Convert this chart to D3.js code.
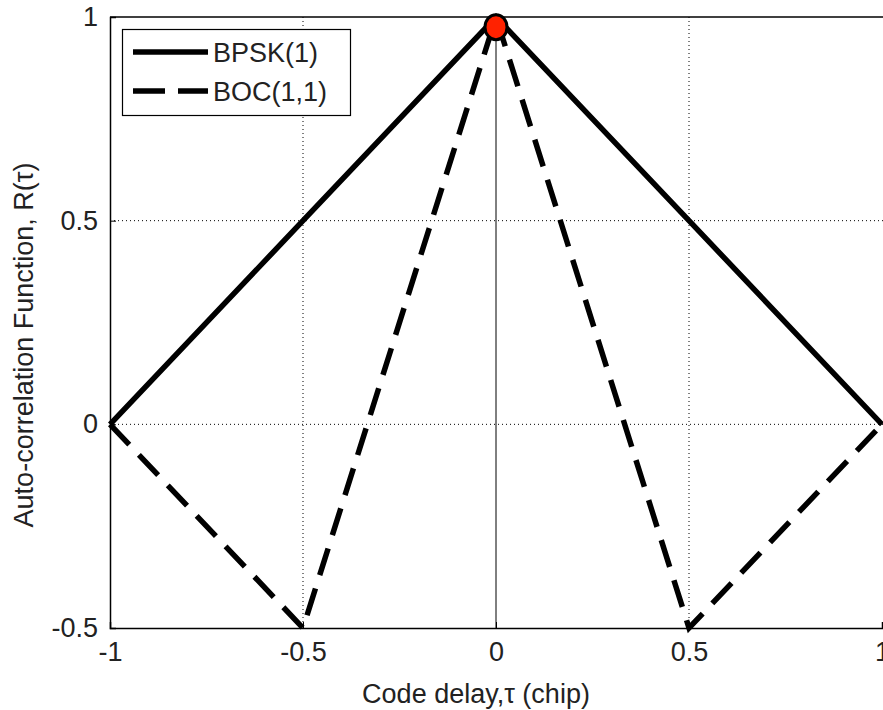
<!DOCTYPE html>
<html>
<head>
<meta charset="utf-8">
<script src="https://cdn.jsdelivr.net/npm/d3@7"></script>
<style>
  body { margin: 0; background: #fff; }
  text { font-family: "Liberation Sans", Arial, sans-serif; }
</style>
</head>
<body>
<div id="graph"></div>
<script>
var delay = [-1, -0.5, 0, 0.5, 1];
var bpsk = [0, 0.5, 1, 0.5, 0];
var boc = [0, -0.5, 1, -0.5, 0];
var peak = {x: 0, y: 0.975};
var xTicks = [-1, -0.5, 0, 0.5, 1];
var yTicks = [-0.5, 0, 0.5, 1];
var seriesNames = ['BPSK(1)', 'BOC(1,1)'];

function drawChart() {
    var width = 883, height = 710;
    var mLeft = 110, mRight = 883, mTop = 17, mBottom = 628;
    var fontSize = 27;

    var svg = d3.select('#graph')
        .append('svg')
        .attr('width', width)
        .attr('height', height);

    var x = d3.scaleLinear().domain([-1, 1]).range([mLeft, mRight - 1]);
    var y = d3.scaleLinear().domain([-0.5, 1]).range([mBottom, mTop]);

    // grid, dotted like matlab
    var grid = svg.append('g');
    grid.selectAll('.gx')
        .data(xTicks.filter(d => d !== -1 && d !== 1 && d !== 0))
        .enter().append('line')
        .attr('x1', d => x(d)).attr('x2', d => x(d))
        .attr('y1', mTop).attr('y2', mBottom)
        .attr('stroke', '#000').attr('stroke-width', 1)
        .attr('stroke-dasharray', '1,3');
    grid.selectAll('.gy')
        .data(yTicks.filter(d => d !== -0.5 && d !== 1))
        .enter().append('line')
        .attr('x1', mLeft).attr('x2', mRight)
        .attr('y1', d => y(d)).attr('y2', d => y(d))
        .attr('stroke', '#000').attr('stroke-width', 1)
        .attr('stroke-dasharray', '1,3');

    // solid line at zero delay
    svg.append('line')
        .attr('x1', x(0)).attr('x2', x(0))
        .attr('y1', mTop).attr('y2', mBottom)
        .attr('stroke', '#000').attr('stroke-width', 1);

    // axes
    var fmt = d => String(d);
    var xAxis = d3.axisBottom(x).tickValues(xTicks).tickSize(-6).tickPadding(14).tickFormat(fmt);
    var yAxis = d3.axisLeft(y).tickValues(yTicks).tickSize(-6).tickPadding(12).tickFormat(fmt);

    var gx = svg.append('g').attr('transform', 'translate(0,' + mBottom + ')').call(xAxis);
    var gy = svg.append('g').attr('transform', 'translate(' + mLeft + ',0)').call(yAxis);
    [gx, gy].forEach(function(g) {
        g.select('.domain').attr('stroke', '#000').attr('stroke-width', 1.5);
        g.selectAll('.tick line').attr('stroke', '#000');
        g.selectAll('.tick text')
            .attr('font-size', fontSize)
            .attr('fill', '#222')
            .style('font-family', '"Liberation Sans", Arial, sans-serif');
    });
    gx.selectAll('.tick text').attr('dy', '0.7em');

    // top frame
    svg.append('line')
        .attr('x1', mLeft).attr('x2', mRight)
        .attr('y1', mTop).attr('y2', mTop)
        .attr('stroke', '#000').attr('stroke-width', 1.5);

    // curves
    var line = d3.line().x(d => x(d[0])).y(d => y(d[1]));

    svg.append('path')
        .datum(d3.zip(delay, bpsk))
        .attr('d', line)
        .attr('fill', 'none')
        .attr('stroke', '#000')
        .attr('stroke-width', 5.5);

    svg.append('path')
        .datum(d3.zip(delay, boc))
        .attr('d', line)
        .attr('fill', 'none')
        .attr('stroke', '#000')
        .attr('stroke-width', 5.5)
        .attr('stroke-dasharray', '28,14');

    // peak marker
    svg.append('ellipse')
        .attr('cx', x(peak.x))
        .attr('cy', y(peak.y))
        .attr('rx', 11)
        .attr('ry', 12.5)
        .attr('fill', '#ff2200')
        .attr('stroke', '#000')
        .attr('stroke-width', 3);

    // legend
    var legend = svg.append('g');
    legend.append('rect')
        .attr('x', 122.5).attr('y', 29.5)
        .attr('width', 228).attr('height', 86)
        .attr('fill', '#fff')
        .attr('stroke', '#000')
        .attr('stroke-width', 1.2);

    var legendY = [52, 91];
    seriesNames.forEach(function(name, i) {
        legend.append('line')
            .attr('x1', 133).attr('x2', 208)
            .attr('y1', legendY[i]).attr('y2', legendY[i])
            .attr('stroke', '#000')
            .attr('stroke-width', 5.5)
            .attr('stroke-dasharray', i === 1 ? '32,13' : null);
        legend.append('text')
            .attr('x', 213)
            .attr('y', legendY[i])
            .attr('dy', '0.36em')
            .attr('font-size', fontSize)
            .attr('fill', '#222')
            .text(name);
    });

    // axis labels
    svg.append('text')
        .attr('x', 476)
        .attr('y', 703)
        .attr('text-anchor', 'middle')
        .attr('font-size', fontSize)
        .attr('fill', '#222')
        .text('Code delay,\u03c4 (chip)');

    svg.append('text')
        .attr('transform', 'translate(33,345) rotate(-90)')
        .attr('text-anchor', 'middle')
        .attr('font-size', fontSize)
        .attr('fill', '#222')
        .text('Auto-correlation Function, R(\u03c4)');
}

drawChart();
</script>
</body>
</html>
